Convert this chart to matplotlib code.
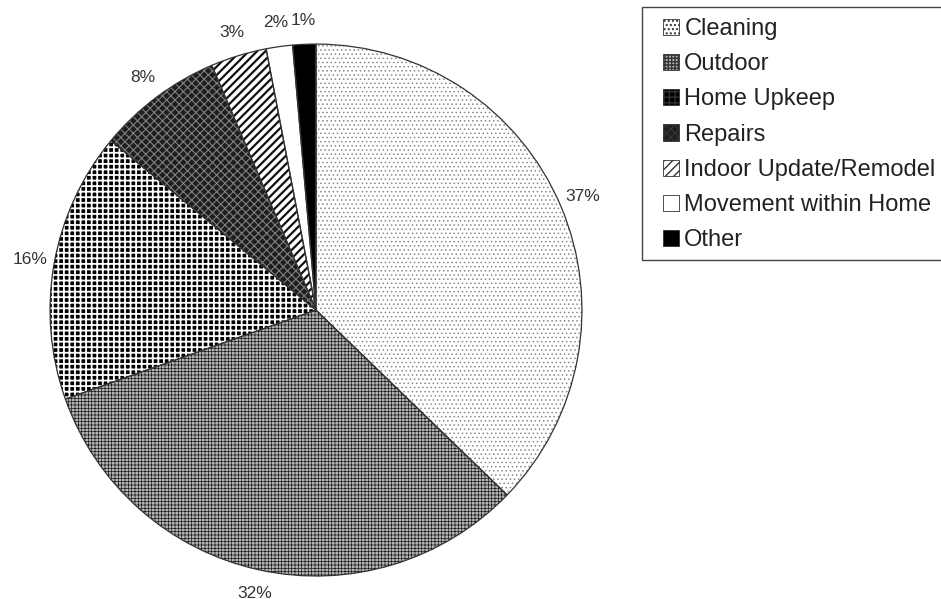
import numpy as np
import matplotlib
matplotlib.use("Agg")
import matplotlib.pyplot as plt
from matplotlib.patches import Rectangle

# Data (slice sizes)
categories = ["Cleaning", "Outdoor", "Home Upkeep", "Repairs",
              "Indoor Update/Remodel", "Movement within Home", "Other"]
shares = [37.2, 32.3, 16.4, 7.6, 3.4, 1.6, 1.4]
share_labels = ["37%", "32%", "16%", "8%", "3%", "2%", "1%"]

# Fill styles per slice: (face colour, hatch, hatch colour, hatch width)
styles = [
    ("white", "....", "#8a8a8a", 0.6),
    ("#b4b4b4", "+++++", "#1a1a1a", 0.5),
    ("black", "+++", "white", 1.3),
    ("#1e1e1e", "xxxx", "#808080", 0.8),
    ("white", "////", "#111111", 1.6),
    ("white", "", "black", 1.0),
    ("black", "", "black", 1.0),
]

plt.rcParams['font.family'] = ['Liberation Sans', 'DejaVu Sans']

fig = plt.figure(figsize=(9.41, 5.99), dpi=100)
ax = fig.add_axes([0.0531, 0.0384, 0.5654, 0.888])

wedges, texts = ax.pie(shares, labels=share_labels, startangle=90,
                       counterclock=False, labeldistance=1.09,
                       radius=1.0, textprops=dict(fontsize=12.5, color="#333333"))

for w, (face, hatch, hcol, hlw) in zip(wedges, styles):
    w.set_facecolor(face)
    w.set_hatch(hatch)
    w.set_edgecolor(hcol)
    w.set_linewidth(0)
    if hasattr(w, "set_hatch_linewidth"):
        w.set_hatch_linewidth(hlw)

for t in texts:
    t.set_horizontalalignment("center")

# outlines on top
outline, _ = ax.pie(shares, startangle=90, counterclock=False, radius=1.0,
                    wedgeprops=dict(fill=False, edgecolor="#333333", linewidth=0.9))

ax.set_xlim(-1, 1)
ax.set_ylim(-1, 1)
ax.set_aspect("equal")

# legend with small square handles, frame drawn separately
leg = fig.legend(wedges, categories, loc="upper left",
                 bbox_to_anchor=(663 / 941, 1 - 18 / 599),
                 frameon=False, fontsize=17,
                 handlelength=0.68, handleheight=0.68, handletextpad=0.22,
                 labelspacing=0.56, borderpad=0, borderaxespad=0)
for txt in leg.get_texts():
    txt.set_color("#222222")
for h in leg.legend_handles:
    h.set_edgecolor("#333333")
    h.set_linewidth(0.6)

fig.patches.append(Rectangle((642 / 941, 1 - 260 / 599), 0.4, 253 / 599,
                             transform=fig.transFigure, fill=False,
                             edgecolor="#444444", linewidth=1.0))

fig.savefig("out.png", dpi=100)
